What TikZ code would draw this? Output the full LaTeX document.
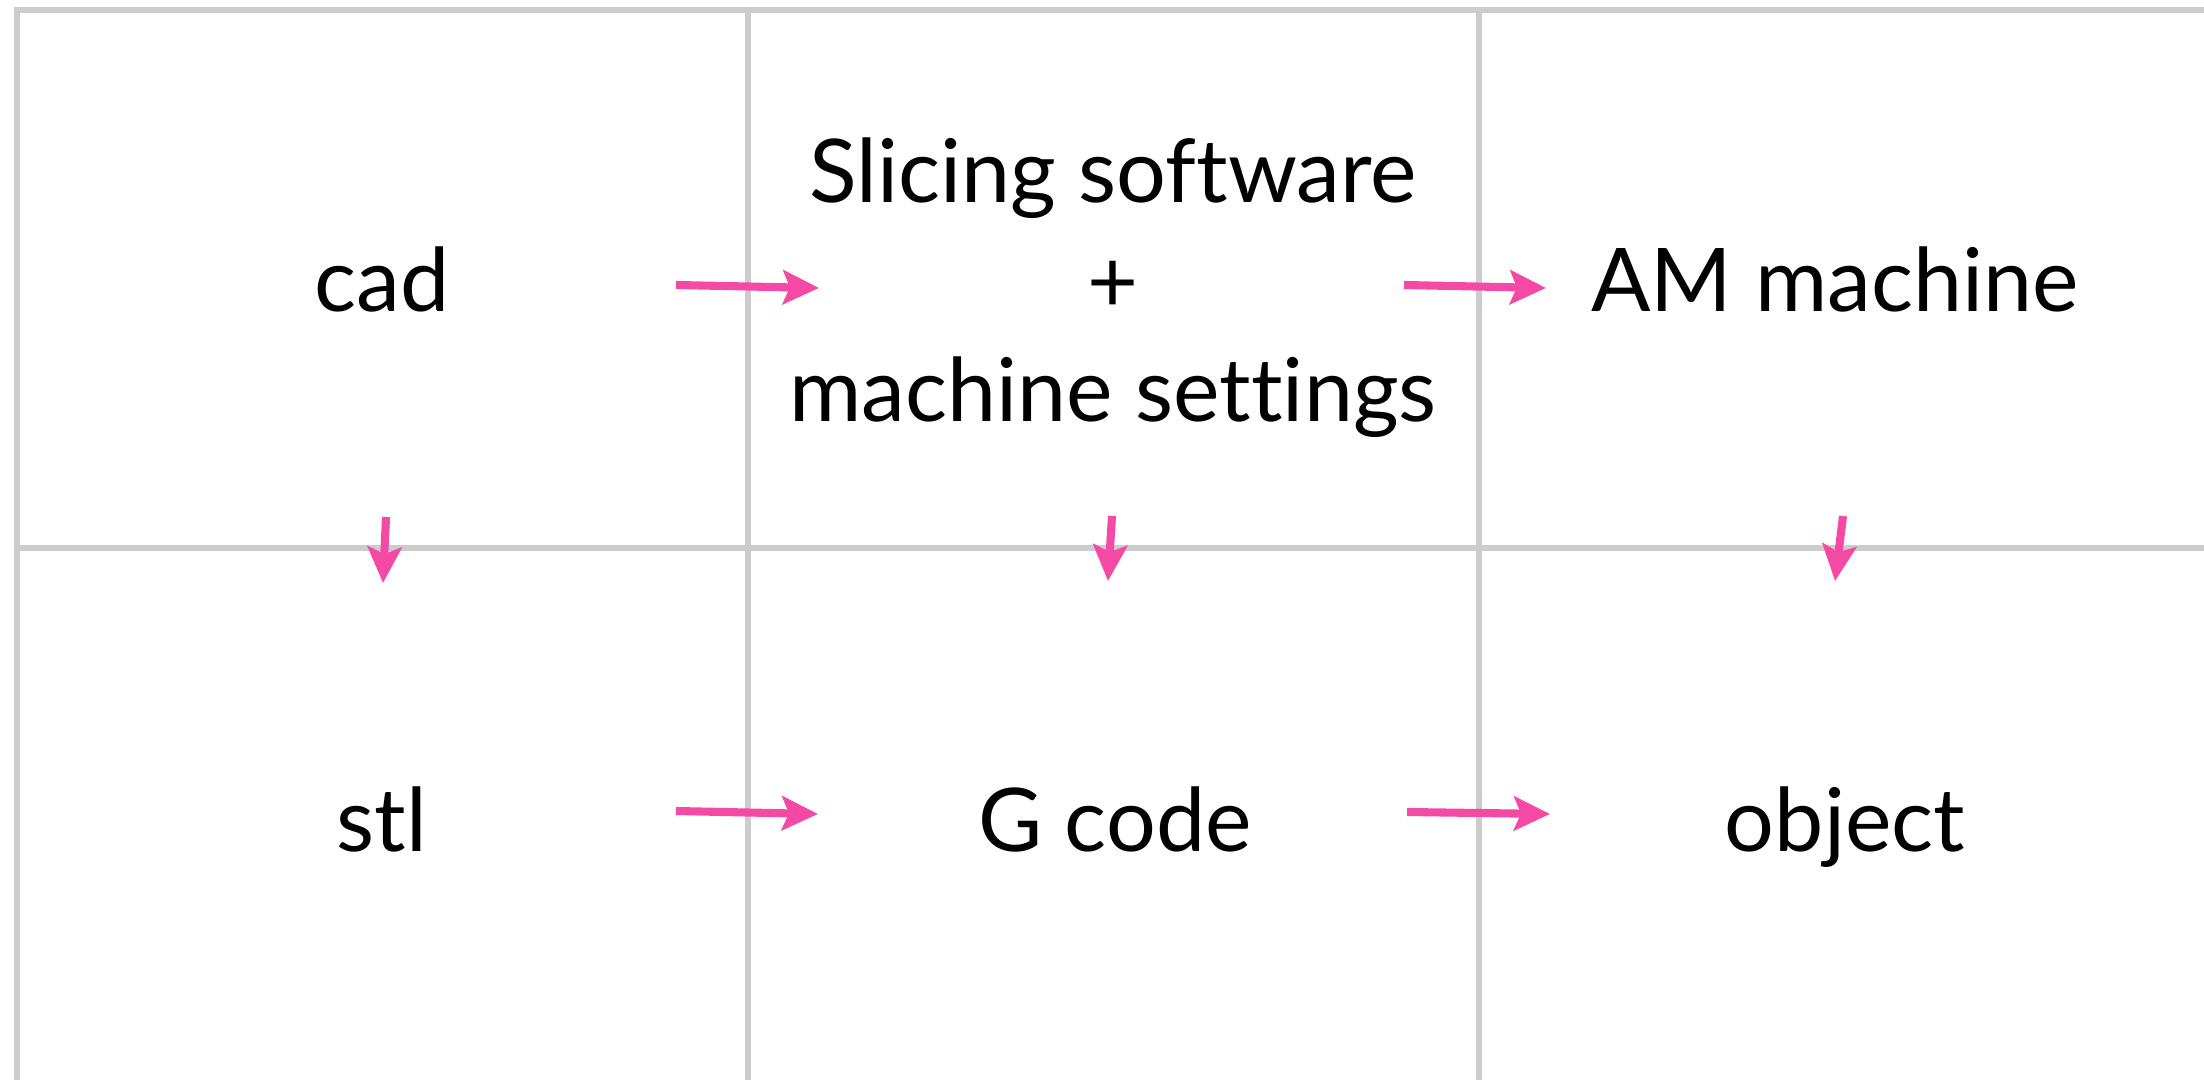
\documentclass[tikz,border=0pt]{standalone}
\usepackage{fontspec}
\setmainfont{Lato}[Ligatures=CommonOff]
\usetikzlibrary{arrows.meta}
\definecolor{gridgray}{RGB}{204,204,204}
\definecolor{flowpink}{RGB}{244,74,166}
\begin{document}
\begin{tikzpicture}[x=0.01cm,y=-0.01cm,
  gridline/.style={draw=gridgray,line width=1.5pt},
  label/.style={font=\fontsize{25}{31.2}\selectfont,inner sep=0pt,anchor=base,align=center},
  flow/.style={draw=flowpink,line width=2.3pt,-{Stealth[length=0.36cm,width=0.34cm,inset=0.07cm]}}]
\useasboundingbox[fill=white] (0,0) rectangle (2204,1080);
% grid
\draw[gridline] (17,1080) -- (17,10) -- (2204,10);
\draw[gridline] (748,10) -- (748,1080);
\draw[gridline] (1479,10) -- (1479,1080);
\draw[gridline] (17,548) -- (2204,548);
% texts
\node[label] (cad) at (382,312) {cad};
\node[label] (slice) at (1113,422) {Slicing software\\+\\machine settings};
\node[label] (am) at (1835,312) {AM machine};
\node[label] (stl) at (382,851) {stl};
\node[label] (gcode) at (1115,851) {G code};
\node[label] (obj) at (1845,851) {object};
% arrow ends
\coordinate (a1s) at (676,285); \coordinate (a1e) at (819,288);
\coordinate (a2s) at (1404,285); \coordinate (a2e) at (1546,288);
\coordinate (b1s) at (676,811); \coordinate (b1e) at (818,814);
\coordinate (b2s) at (1407,812); \coordinate (b2e) at (1550,814);
\coordinate (v1s) at (386,517); \coordinate (v1e) at (383,583);
\coordinate (v2s) at (1112,516); \coordinate (v2e) at (1108,581);
\coordinate (v3s) at (1843,516); \coordinate (v3e) at (1835,581);
\draw[flow] (a1s) -- (a1e);
\draw[flow] (a2s) -- (a2e);
\draw[flow] (b1s) -- (b1e);
\draw[flow] (b2s) -- (b2e);
\draw[flow] (v1s) -- (v1e);
\draw[flow] (v2s) -- (v2e);
\draw[flow] (v3s) -- (v3e);
\end{tikzpicture}
\end{document}
